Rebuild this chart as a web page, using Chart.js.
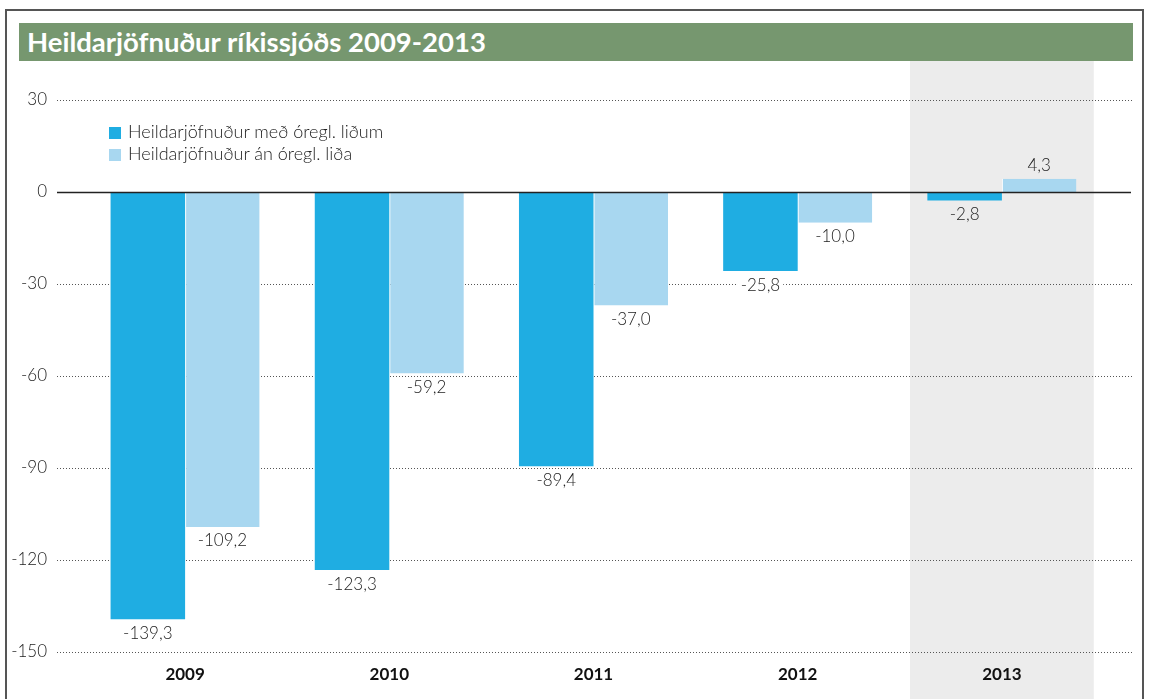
<!DOCTYPE html>
<html>
<head>
<meta charset="utf-8">
<script src="https://cdn.jsdelivr.net/npm/chart.js@4"></script>
<style>
    body { margin: 0; background: #fff; }
    #wrap { position: relative; width: 1151px; height: 699px; overflow: hidden; font-family: Lato, sans-serif; }
    #frame { position: absolute; left: 5px; top: 9px; width: 1139px; height: 720px; border: 2px solid #555; box-sizing: border-box; }
    #title { position: absolute; left: 19px; top: 23px; width: 1114px; height: 38px; background: #76976f; color: #fff;
             font: bold 27.5px Lato, sans-serif; line-height: 38px; padding-left: 8px; box-sizing: border-box; z-index: 2; }
    #chart { position: absolute; left: 0; top: 0; width: 1151px; height: 699px; }
    #legend { position: absolute; left: 109px; top: 120px; font: 300 18px Lato, sans-serif; color: #222; z-index: 2; }
    #legend div { height: 22px; line-height: 22px; }
    #legend span { display: inline-block; width: 12px; height: 12px; margin-right: 7px; vertical-align: -1px; }
</style>
</head>
<body>
<div id="wrap">
    <div id="chart"><canvas id="fiscalChart"></canvas></div>
    <div id="frame"></div>
    <div id="title">Heildarjöfnuður ríkissjóðs 2009-2013</div>
    <div id="legend"></div>
</div>
<script>
// Data
const years = ['2009', '2010', '2011', '2012', '2013'];
const withIrregular = [-139.3, -123.3, -89.4, -25.8, -2.8];
const withoutIrregular = [-109.2, -59.2, -37.0, -10.0, 4.3];
const seriesNames = ['Heildarjöfnuður með óregl. liðum', 'Heildarjöfnuður án óregl. liða'];
const yTicks = [30, 0, -30, -60, -90, -120, -150];

const darkBlue = '#1fade2';
const lightBlue = '#a8d7f0';

// Legend drawn as html so it sits inside the plot like the original
document.getElementById('legend').innerHTML = seriesNames.map((name, i) =>
    `<div><span style="background:${i === 0 ? darkBlue : lightBlue}"></span>${name}</div>`
).join('');

const fmt = v => v.toFixed(1).replace('.', ',');

// Grey band behind the last year + dotted grid lines
const backdrop = {
    id: 'backdrop',
    beforeDraw(chart) {
        const { ctx, chartArea, scales: { x, y } } = chart;
        const band = x.width / years.length;
        const cx = x.getPixelForValue(4);
        ctx.save();
        ctx.fillStyle = '#ececec';
        ctx.fillRect(cx - band * 0.45, 61, band * 0.9, chart.height - 61);

        ctx.strokeStyle = '#555';
        ctx.lineWidth = 1;
        ctx.setLineDash([1, 2]);
        yTicks.forEach(t => {
            if (t === 0) return;
            const py = Math.round(y.getPixelForValue(t)) + 0.5;
            ctx.beginPath();
            ctx.moveTo(chartArea.left - 26, py);
            ctx.lineTo(chartArea.right + 29, py);
            ctx.stroke();
        });
        ctx.restore();
    },
    afterDatasetsDraw(chart) {
        const { ctx, chartArea, scales: { y } } = chart;
        ctx.save();
        // zero line
        const py = Math.round(y.getPixelForValue(0)) + 0.5;
        ctx.strokeStyle = '#222';
        ctx.lineWidth = 1.5;
        ctx.beginPath();
        ctx.moveTo(chartArea.left - 26, py);
        ctx.lineTo(chartArea.right + 27, py);
        ctx.stroke();

        // value labels
        ctx.font = '300 17px Lato, sans-serif';
        ctx.textAlign = 'center';
        ctx.textBaseline = 'middle';
        chart.data.datasets.forEach((ds, di) => {
            chart.getDatasetMeta(di).data.forEach((bar, i) => {
                const v = ds.data[i];
                const txt = fmt(v);
                const ly = v < 0 ? bar.y + 14 : bar.y - 13;
                const w = ctx.measureText(txt).width;
                ctx.fillStyle = i === 4 ? '#ececec' : '#fff';
                ctx.fillRect(bar.x - w / 2 - 3, ly - 9, w + 6, 18);
                ctx.fillStyle = '#222';
                ctx.fillText(txt, bar.x, ly);
            });
        });
        ctx.restore();
    }
};

new Chart(document.getElementById('fiscalChart'), {
    type: 'bar',
    data: {
        labels: years,
        datasets: [{
            label: seriesNames[0],
            data: withIrregular,
            backgroundColor: darkBlue,
            borderWidth: 0
        }, {
            label: seriesNames[1],
            data: withoutIrregular,
            backgroundColor: lightBlue,
            borderColor: '#fff',
            borderWidth: { left: 1, right: 0, top: 0, bottom: 0 },
            borderSkipped: false
        }]
    },
    options: {
        responsive: true,
        maintainAspectRatio: false,
        animation: false,
        layout: {
            padding: { top: 100, right: 47, left: 0, bottom: 0 }
        },
        categoryPercentage: 0.73,
        barPercentage: 1,
        plugins: {
            legend: { display: false },
            tooltip: { enabled: false }
        },
        scales: {
            x: {
                grid: { display: false },
                border: { display: false },
                ticks: {
                    padding: 4,
                    color: '#111',
                    font: { family: 'Lato', size: 17, weight: 'bold' }
                },
                afterFit(scale) { scale.height = 47; }
            },
            y: {
                min: -150,
                max: 30,
                grid: { display: false, drawTicks: false },
                border: { display: false },
                ticks: {
                    stepSize: 30,
                    padding: 36,
                    color: '#222',
                    font: { family: 'Lato', size: 17, weight: '300' }
                },
                afterFit(scale) { scale.width = 83; }
            }
        }
    },
    plugins: [backdrop]
});
</script>
</body>
</html>
